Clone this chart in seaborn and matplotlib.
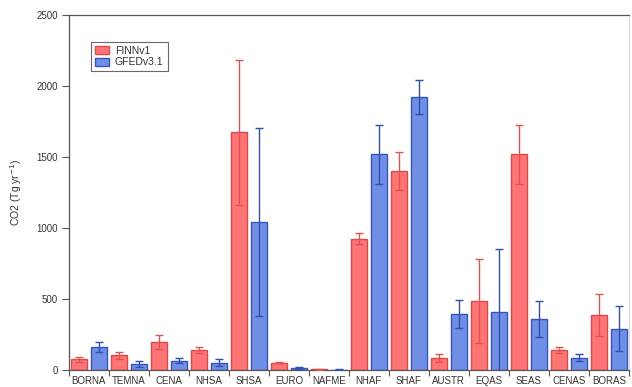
import numpy as np
import pandas as pd
import seaborn as sns
import matplotlib.pyplot as plt
from matplotlib.ticker import FixedLocator

# Regional CO2 fire emissions, FINNv1 vs GFEDv3.1 (Tg/yr) with uncertainty
regions = ["BORNA", "TEMNA", "CENA", "NHSA", "SHSA", "EURO", "NAFME",
           "NHAF", "SHAF", "AUSTR", "EQAS", "SEAS", "CENAS", "BORAS"]
finn = [75, 105, 198, 143, 1675, 52, 6, 925, 1400, 82, 487, 1518, 143, 386]
finn_err = [16, 25, 50, 22, 510, 6, 3, 38, 135, 28, 295, 205, 22, 150]
gfed = [165, 40, 66, 52, 1042, 16, 3, 1518, 1923, 393, 407, 360, 87, 290]
gfed_err = [35, 20, 20, 22, 662, 7, 2, 205, 120, 100, 445, 128, 22, 158]
series = ["FINNv1", "GFEDv3.1"]
y_ticks = [0, 500, 1000, 1500, 2000, 2500]

df = pd.DataFrame({
    "region": regions * 2,
    "inventory": [series[0]] * len(regions) + [series[1]] * len(regions),
    "co2": finn + gfed,
})

sns.set_theme(style="white")
plt.rcParams["font.family"] = ["Liberation Sans", "DejaVu Sans"]

fill = {"FINNv1": "#FF7474", "GFEDv3.1": "#6F8FE6"}
edge = {"FINNv1": "#E04848", "GFEDv3.1": "#3555BE"}
err_col = {"FINNv1": "#E25252", "GFEDv3.1": "#2E4EB4"}
errs = {"FINNv1": finn_err, "GFEDv3.1": gfed_err}

fig = plt.figure(figsize=(6.32, 3.87), dpi=100)
ax = fig.add_axes([0.109, 0.044, 0.886, 0.917])

sns.barplot(data=df, x="region", y="co2", hue="inventory", order=regions,
            hue_order=series, palette=fill, saturation=1, width=1.0, gap=0.2,
            errorbar=None, linewidth=1.0, ax=ax)

for name, cont in zip(series, ax.containers):
    xs, hs = [], []
    for p in cont.patches:
        p.set_edgecolor(edge[name])
        p.set_linewidth(1.0)
        xs.append(p.get_x() + p.get_width() / 2)
        hs.append(p.get_height())
    ax.errorbar(xs, hs, yerr=errs[name], fmt="none", ecolor=err_col[name],
                elinewidth=1.0, capsize=3, capthick=1.0, zorder=5)

ax.set_xlim(-0.5, len(regions) - 0.5)
ax.set_ylim(0, 2500)
ax.set_yticks(y_ticks)
ax.xaxis.set_minor_locator(FixedLocator(np.arange(-0.5, len(regions), 1.0)))
ax.tick_params(axis="x", which="major", length=0, labelsize=7, pad=4,
               labelcolor="#333333")
ax.tick_params(axis="x", which="minor", bottom=True, length=4, width=0.8,
               direction="out", color="#555555")
ax.tick_params(axis="y", left=True, length=5, width=0.8, direction="out",
               labelsize=7, labelcolor="#333333", color="#555555", pad=3)

for side, sp in ax.spines.items():
    sp.set_visible(True)
    sp.set_color("#555555")
    sp.set_linewidth(0.9)
ax.spines["right"].set_color("#cccccc")
ax.spines["right"].set_linewidth(0.6)

ax.set_xlabel("")
ax.set_ylabel("CO2 (Tg yr$^{-1}$)", fontsize=7.5, color="#333333", labelpad=9)

leg = ax.legend(loc="upper left", bbox_to_anchor=(0.03, 0.94), frameon=True,
                fancybox=False, fontsize=7.5, handlelength=1.3,
                handleheight=0.8, handletextpad=0.6, borderpad=0.4,
                labelspacing=0.15, title=None)
leg.get_frame().set_edgecolor("#444444")
leg.get_frame().set_linewidth(0.8)
for h, name in zip(leg.legend_handles, series):
    h.set_edgecolor(edge[name])
for t in leg.get_texts():
    t.set_color("#333333")

fig.savefig("out.png", dpi=100)
